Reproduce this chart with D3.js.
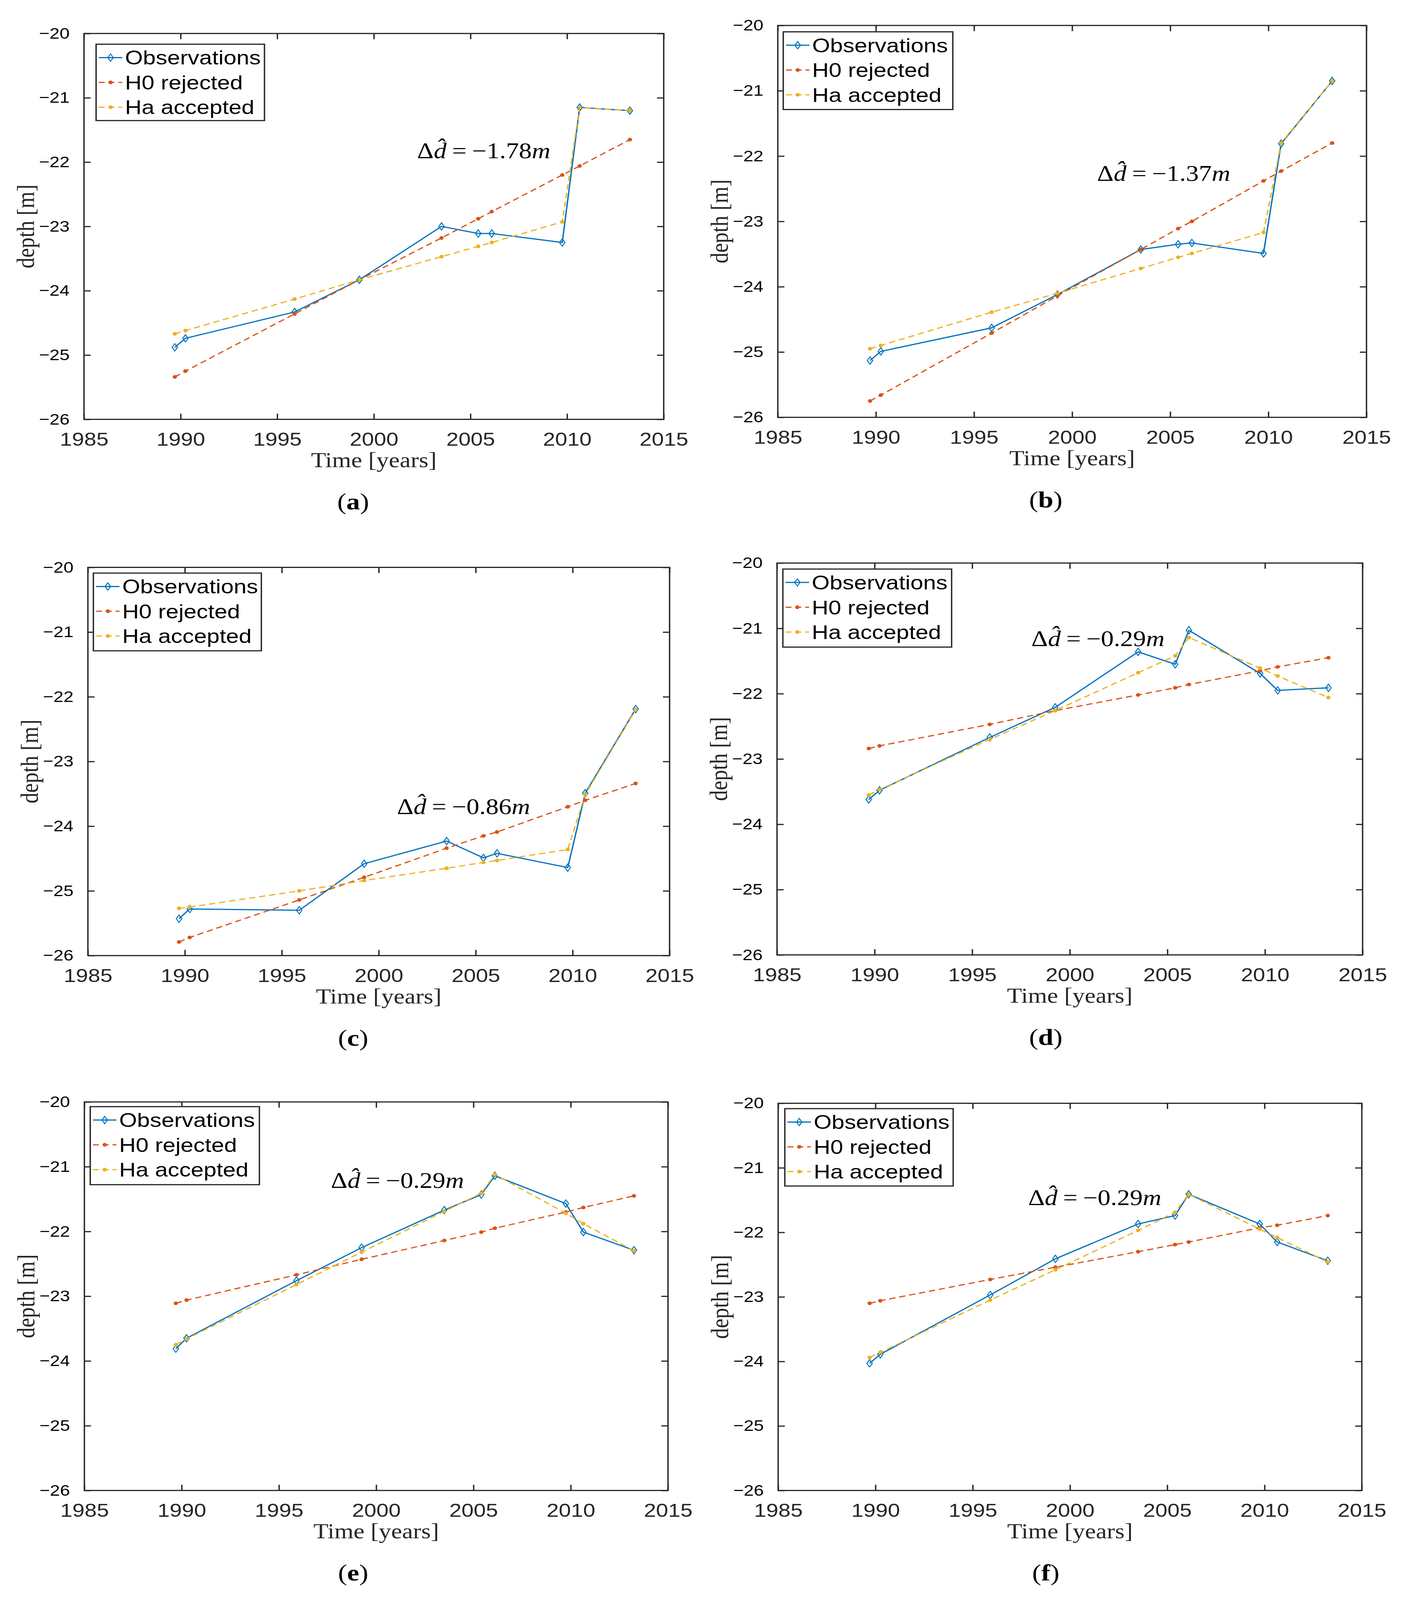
<!DOCTYPE html>
<html>
<head>
<meta charset="utf-8">
<script src="https://cdn.jsdelivr.net/npm/d3@7"></script>
<style>
  html, body { margin: 0; padding: 0; background: #fff; overflow: hidden; }
  svg { display: block; }
</style>
</head>
<body>
<svg id="fig"></svg>
<script>
// dados (anos de levantamento, profundidade em m)
const years = [1989.7, 1990.25, 1995.9, 1999.25, 2003.5, 2005.4, 2006.1, 2009.75, 2010.65, 2013.25];

const obs_a = [-24.88, -24.74, -24.33, -23.83, -23.00, -23.11, -23.11, -23.25, -21.15, -21.20];
const h0_a  = [-25.34, -25.25, -24.36, -23.83, -23.18, -22.88, -22.77, -22.20, -22.06, -21.65];
const ha_a  = [-24.67, -24.62, -24.13, -23.83, -23.47, -23.31, -23.25, -22.93, -21.15, -21.20];

const obs_b = [-25.13, -24.99, -24.63, -24.12, -23.43, -23.35, -23.33, -23.49, -21.81, -20.85];
const h0_b  = [-25.75, -25.66, -24.71, -24.14, -23.43, -23.11, -23.00, -22.38, -22.23, -21.80];
const ha_b  = [-24.95, -24.90, -24.39, -24.10, -23.72, -23.55, -23.49, -23.17, -21.80, -20.85];

const obs_c = [-25.43, -25.28, -25.30, -24.58, -24.23, -24.49, -24.42, -24.64, -23.49, -22.19];
const h0_c  = [-25.79, -25.72, -25.14, -24.79, -24.34, -24.15, -24.09, -23.70, -23.60, -23.34];
const ha_c  = [-25.27, -25.25, -25.00, -24.84, -24.65, -24.56, -24.53, -24.36, -23.51, -22.20];

const obs_d = [-23.62, -23.48, -22.67, -22.21, -21.36, -21.55, -21.03, -21.69, -21.95, -21.91];
const h0_d  = [-22.84, -22.80, -22.47, -22.26, -22.02, -21.91, -21.86, -21.65, -21.59, -21.45];
const ha_d  = [-23.55, -23.47, -22.70, -22.26, -21.68, -21.42, -21.14, -21.61, -21.73, -22.06];

const obs_e = [-23.81, -23.65, -22.76, -22.25, -21.67, -21.43, -21.14, -21.57, -22.01, -22.29];
const h0_e  = [-23.11, -23.06, -22.67, -22.43, -22.14, -22.01, -21.95, -21.70, -21.63, -21.45];
const ha_e  = [-23.75, -23.66, -22.82, -22.32, -21.69, -21.41, -21.12, -21.72, -21.88, -22.30];

const obs_f = [-24.03, -23.89, -22.97, -22.41, -21.87, -21.74, -21.41, -21.87, -22.15, -22.44];
const h0_f  = [-23.10, -23.06, -22.73, -22.54, -22.30, -22.19, -22.15, -21.93, -21.89, -21.74];
const ha_f  = [-23.94, -23.86, -23.05, -22.58, -21.97, -21.69, -21.41, -21.95, -22.08, -22.46];

const delta_values = ["\u22121.78", "\u22121.37", "\u22120.86", "\u22120.29", "\u22120.29", "\u22120.29"];
const panel_letters = ["a", "b", "c", "d", "e", "f"];
const series_names = ["Observations", "H0 rejected", "Ha accepted"];
const x_ticks = [1985, 1990, 1995, 2000, 2005, 2010, 2015];
const y_ticks = [-20, -21, -22, -23, -24, -25, -26];

// cores padrão do matlab
const c_obs = "#0072BD", c_h0 = "#D95319", c_ha = "#EDB120";
const axis_col = "#262626";

// layout de cada painel (px na figura), e posição da anotação em coordenadas de dados
const layout = [
  {L: 215,  R: 1699, T: 100,  B: 1252, leg: [246, 132, 431, 228],  note: [2002.24, -21.94], obs: obs_a, h0: h0_a, ha: ha_a, cx: 904},
  {L: 1991, R: 3498, T: 76,   B: 1246, leg: [2005, 95, 434, 232],  note: [2001.27, -22.38], obs: obs_b, h0: h0_b, ha: ha_b, cx: 2677},
  {L: 225,  R: 1714, T: 1694, B: 2853, leg: [239, 1711, 430, 232], note: [2000.94, -23.81], obs: obs_c, h0: h0_c, ha: ha_c, cx: 904},
  {L: 1989, R: 3488, T: 1681, B: 2851, leg: [2004, 1699, 432, 233], note: [1998.03, -21.27], obs: obs_d, h0: h0_d, ha: ha_d, cx: 2677},
  {L: 216,  R: 1710, T: 3290, B: 4450, leg: [231, 3304, 433, 233], note: [1997.67, -21.33], obs: obs_e, h0: h0_e, ha: ha_e, cx: 904},
  {L: 1992, R: 3486, T: 3294, B: 4450, leg: [2009, 3310, 431, 231], note: [1997.85, -21.58], obs: obs_f, h0: h0_f, ha: ha_f, cx: 2677}
];

const W = 3594, H = 4777;
// a figura ocupa a janela inteira (o desenho é feito em 3594x4777 e escalado)
const vw = window.innerWidth || W, vh = window.innerHeight || H;
const $svg = d3.select("#fig")
  .attr("width", vw).attr("height", vh)
  .attr("viewBox", `0 0 ${W} ${H}`)
  .attr("preserveAspectRatio", "none");

const sans = "'Liberation Sans', Arial, Helvetica, sans-serif";
const serif = "'Liberation Serif', 'Times New Roman', serif";

const diamond = "M0,-11L7,0L0,11L-7,0Z";
const tick_len = 17;

layout.forEach(function(p, i) {
  const g = $svg.append("g");

  const x = d3.scaleLinear().domain([1985, 2015]).range([p.L, p.R]);
  const y = d3.scaleLinear().domain([-26, -20]).range([p.B, p.T]);

  // eixos (ticks para dentro, nos quatro lados)
  const ax_bottom = g.append("g").attr("transform", `translate(0,${p.B})`)
    .call(d3.axisBottom(x).tickValues(x_ticks).tickSize(-tick_len).tickPadding(tick_len + 22).tickFormat(d3.format("d")));
  const ax_top = g.append("g").attr("transform", `translate(0,${p.T})`)
    .call(d3.axisTop(x).tickValues(x_ticks).tickSize(-tick_len).tickFormat(""));
  const ax_left = g.append("g").attr("transform", `translate(${p.L},0)`)
    .call(d3.axisLeft(y).tickValues(y_ticks).tickSize(-tick_len).tickPadding(tick_len + 20)
      .tickFormat(d => d < 0 ? "\u2212" + Math.abs(d) : d));
  const ax_right = g.append("g").attr("transform", `translate(${p.R},0)`)
    .call(d3.axisRight(y).tickValues(y_ticks).tickSize(-tick_len).tickFormat(""));

  [ax_bottom, ax_top, ax_left, ax_right].forEach(function(a) {
    a.select(".domain").remove();
    a.selectAll(".tick line").attr("stroke", axis_col).attr("stroke-width", 3.5);
    a.selectAll("text").attr("fill", "#000").style("font-family", sans);
  });
  ax_bottom.selectAll("text").style("font-size", "56px").attr("fill", axis_col);
  ax_left.selectAll("text").style("font-size", "46px");

  // caixa
  g.append("rect")
    .attr("x", p.L).attr("y", p.T)
    .attr("width", p.R - p.L).attr("height", p.B - p.T)
    .attr("fill", "none").attr("stroke", axis_col).attr("stroke-width", 3.5);

  // títulos dos eixos
  g.append("text")
    .attr("x", (p.L + p.R) / 2).attr("y", p.B + 143)
    .attr("text-anchor", "middle")
    .style("font-family", serif).style("font-size", "63px").attr("fill", axis_col)
    .text("Time [years]");
  g.append("text")
    .attr("transform", `translate(${p.L - 128},${(p.T + p.B) / 2}) rotate(-90)`)
    .attr("text-anchor", "middle")
    .style("font-family", serif).style("font-size", "64px").attr("fill", axis_col)
    .text("depth [m]");

  // séries
  const pts = k => years.map((t, j) => [x(t), y(p[k][j])]);
  const line = d3.line();

  g.append("path").attr("d", line(pts("obs")))
    .attr("fill", "none").attr("stroke", c_obs).attr("stroke-width", 3.5);
  g.selectAll(".m-obs").data(pts("obs")).enter().append("path")
    .attr("class", "m-obs")
    .attr("d", diamond)
    .attr("transform", d => `translate(${d[0]},${d[1]})`)
    .attr("fill", "none").attr("stroke", c_obs).attr("stroke-width", 2.5);

  [["h0", c_h0], ["ha", c_ha]].forEach(function(s) {
    g.append("path").attr("d", line(pts(s[0])))
      .attr("fill", "none").attr("stroke", s[1]).attr("stroke-width", 3.5)
      .attr("stroke-dasharray", "16,10");
    g.selectAll(".m-" + s[0]).data(pts(s[0])).enter().append("circle")
      .attr("class", "m-" + s[0])
      .attr("cx", d => d[0]).attr("cy", d => d[1]).attr("r", 5.5)
      .attr("fill", s[1]);
  });

  // anotação
  const note = g.append("text")
    .attr("x", x(p.note[0])).attr("y", y(p.note[1]))
    .style("font-family", serif).style("font-size", "66px").attr("fill", "#000");
  note.append("tspan").text("\u0394");
  note.append("tspan").style("font-style", "italic").text("d\u0302");
  note.append("tspan").attr("dx", 14).text("=");
  note.append("tspan").attr("dx", 14).text(delta_values[i]);
  note.append("tspan").style("font-style", "italic").text("m");

  // legenda
  const [lx, ly, lw, lh] = p.leg;
  const lg = g.append("g");
  lg.append("rect").attr("x", lx).attr("y", ly).attr("width", lw).attr("height", lh)
    .attr("fill", "#fff").attr("stroke", axis_col).attr("stroke-width", 3.5);
  const cols = [c_obs, c_h0, c_ha];
  series_names.forEach(function(name, k) {
    const cy = ly + 40 + k * 74;
    const ln = lg.append("line").attr("x1", lx + 7).attr("x2", lx + 67)
      .attr("y1", cy).attr("y2", cy).attr("stroke", cols[k]).attr("stroke-width", 3.5);
    if (k === 0) {
      lg.append("path").attr("d", diamond).attr("transform", `translate(${lx + 37},${cy})`)
        .attr("fill", "none").attr("stroke", cols[k]).attr("stroke-width", 2.5);
    } else {
      ln.attr("stroke-dasharray", "15,10");
      lg.append("circle").attr("cx", lx + 37).attr("cy", cy).attr("r", 5.5).attr("fill", cols[k]);
    }
    lg.append("text").attr("x", lx + 74).attr("y", cy + 21)
      .style("font-family", sans).style("font-size", "59px").attr("fill", "#000")
      .text(name);
  });

  // rótulo do painel
  const lab = g.append("text")
    .attr("x", p.cx).attr("y", p.B + 269)
    .attr("text-anchor", "middle")
    .style("font-family", serif).style("font-size", "70px").attr("fill", "#000");
  lab.append("tspan").text("(");
  lab.append("tspan").style("font-weight", "bold").text(panel_letters[i]);
  lab.append("tspan").text(")");
});
</script>
</body>
</html>
